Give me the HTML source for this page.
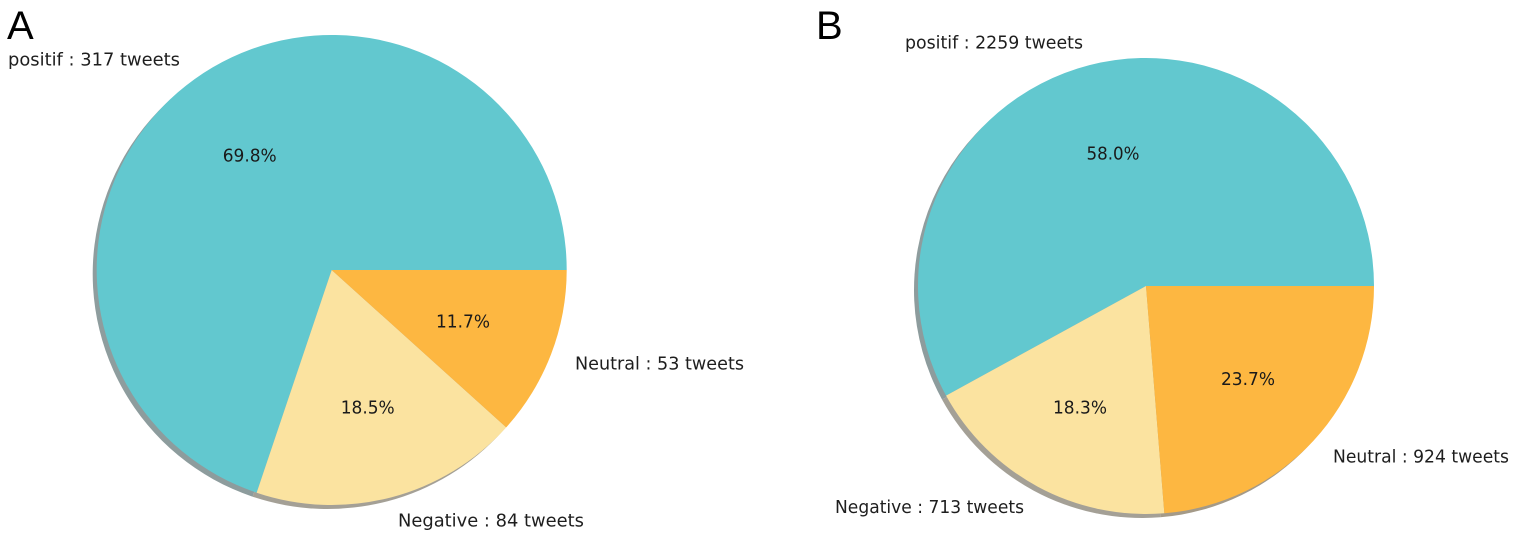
<!DOCTYPE html>
<html>
<head>
<meta charset="utf-8">
<style>
  html,body{margin:0;padding:0;background:#fff;}
  svg{display:block;}
  .lbl{font-family:"DejaVu Sans","Liberation Sans",sans-serif;font-size:17.6px;fill:#1e1e1e;}
  .pct{font-family:"DejaVu Sans","Liberation Sans",sans-serif;font-size:17.8px;fill:#1a1a1a;}
  .big{font-family:"Liberation Sans",sans-serif;font-size:40px;fill:#000;}
</style>
</head>
<body>
<svg width="1525" height="542" viewBox="0 0 1525 542" xmlns="http://www.w3.org/2000/svg">
  <rect width="1525" height="542" fill="#fff"/>

  <!-- Pie A shadows -->
  <g transform="translate(-4,4)" opacity="0.5">
    <path d="M331.7,270 L566.7,270 A235,235 0 1 0 256.64,492.69 Z" fill="rgb(29,60,62)"/>
    <path d="M331.7,270 L256.64,492.69 A235,235 0 0 0 506.26,427.33 Z" fill="rgb(75,68,48)"/>
    <path d="M331.7,270 L506.26,427.33 A235,235 0 0 0 566.7,270 Z" fill="rgb(76,55,19)"/>
  </g>
  <!-- Pie A wedges -->
  <path d="M331.7,270 L566.7,270 A235,235 0 1 0 256.64,492.69 Z" fill="#62C8CF"/>
  <path d="M331.7,270 L256.64,492.69 A235,235 0 0 0 506.26,427.33 Z" fill="#FBE3A0"/>
  <path d="M331.7,270 L506.26,427.33 A235,235 0 0 0 566.7,270 Z" fill="#FDB741"/>

  <!-- Pie B shadows -->
  <g transform="translate(-4,4)" opacity="0.5">
    <path d="M1146,286 L1374,286 A228,228 0 1 0 946.07,395.6 Z" fill="rgb(29,60,62)"/>
    <path d="M1146,286 L946.07,395.6 A228,228 0 0 0 1164.36,513.26 Z" fill="rgb(75,68,48)"/>
    <path d="M1146,286 L1164.36,513.26 A228,228 0 0 0 1374,286 Z" fill="rgb(76,55,19)"/>
  </g>
  <!-- Pie B wedges -->
  <path d="M1146,286 L1374,286 A228,228 0 1 0 946.07,395.6 Z" fill="#62C8CF"/>
  <path d="M1146,286 L946.07,395.6 A228,228 0 0 0 1164.36,513.26 Z" fill="#FBE3A0"/>
  <path d="M1146,286 L1164.36,513.26 A228,228 0 0 0 1374,286 Z" fill="#FDB741"/>

  <!-- Panel letters -->
  <text class="big" x="7" y="39">A</text>
  <text class="big" x="816" y="39">B</text>

  <!-- Labels A -->
  <text class="lbl" x="8" y="65.5" textLength="172" lengthAdjust="spacingAndGlyphs">positif : 317 tweets</text>
  <text class="lbl" x="398" y="526.7" textLength="186" lengthAdjust="spacingAndGlyphs">Negative : 84 tweets</text>
  <text class="lbl" x="575" y="369.3" textLength="169" lengthAdjust="spacingAndGlyphs">Neutral : 53 tweets</text>

  <!-- Percentages A -->
  <text class="pct" x="249.7" y="161.7" text-anchor="middle" textLength="54" lengthAdjust="spacingAndGlyphs">69.8%</text>
  <text class="pct" x="367.7" y="413.3" text-anchor="middle" textLength="54" lengthAdjust="spacingAndGlyphs">18.5%</text>
  <text class="pct" x="463" y="327.3" text-anchor="middle" textLength="54" lengthAdjust="spacingAndGlyphs">11.7%</text>

  <!-- Labels B -->
  <text class="lbl" x="905" y="48.5" textLength="178" lengthAdjust="spacingAndGlyphs">positif : 2259 tweets</text>
  <text class="lbl" x="835" y="513" textLength="189" lengthAdjust="spacingAndGlyphs">Negative : 713 tweets</text>
  <text class="lbl" x="1333" y="462.7" textLength="176" lengthAdjust="spacingAndGlyphs">Neutral : 924 tweets</text>

  <!-- Percentages B -->
  <text class="pct" x="1113" y="159.5" text-anchor="middle" textLength="53" lengthAdjust="spacingAndGlyphs">58.0%</text>
  <text class="pct" x="1080" y="413.3" text-anchor="middle" textLength="54" lengthAdjust="spacingAndGlyphs">18.3%</text>
  <text class="pct" x="1248" y="385" text-anchor="middle" textLength="54" lengthAdjust="spacingAndGlyphs">23.7%</text>
</svg>
</body>
</html>
